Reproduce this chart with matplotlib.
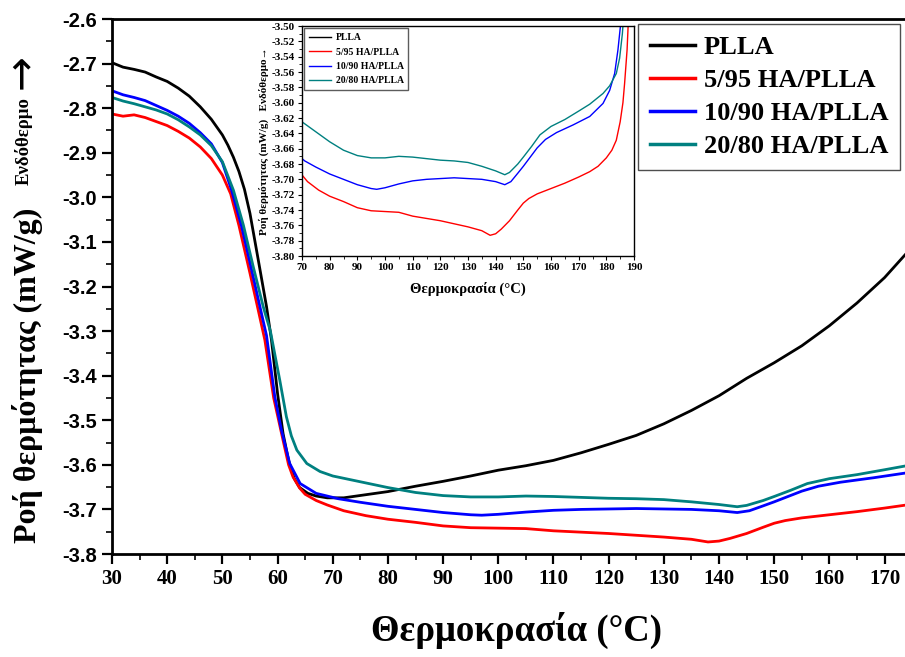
import matplotlib
matplotlib.use("Agg")
import matplotlib.pyplot as plt
from matplotlib.ticker import MultipleLocator, FormatStrFormatter
from matplotlib.lines import Line2D

plt.rcParams['axes.unicode_minus'] = False

# ---------------- data ----------------
pla_T = [30, 32, 34, 36, 38, 40, 42, 44, 46, 48, 50, 51, 52, 53, 54, 55, 56.5, 58, 58.9, 60, 61, 62, 63, 64,
         65.5, 67, 69, 72, 76, 80, 85, 90, 95, 100, 105, 110, 115, 120, 125, 130, 135, 140, 145, 150,
         155, 160, 165, 170, 174]
pla_v = [-2.698, -2.708, -2.713, -2.719, -2.730, -2.740, -2.755, -2.773, -2.797, -2.825, -2.860, -2.883,
         -2.910, -2.942, -2.982, -3.036, -3.140, -3.245, -3.320, -3.440, -3.530, -3.590, -3.630, -3.651,
         -3.664, -3.670, -3.674, -3.674, -3.667, -3.660, -3.648, -3.637, -3.625, -3.612, -3.602, -3.590,
         -3.573, -3.554, -3.534, -3.508, -3.478, -3.445, -3.406, -3.371,
         -3.333, -3.288, -3.237, -3.180, -3.125]

ha5_T = [30, 32, 34, 36, 38, 40, 42, 44, 46, 48, 50, 51.5, 53, 55, 56.5, 57.7, 59.3, 61, 62, 62.8, 64,
         65, 67, 69, 72, 76, 80, 85, 90, 95, 100, 105, 110, 115, 120, 125, 130, 135, 138, 140, 142,
         145, 148, 150, 152, 155, 160, 165, 170, 174, 177, 180, 182, 183.6, 185, 186, 186.6, 187.5, 188]
ha5_v = [-2.813, -2.818, -2.815, -2.821, -2.830, -2.839, -2.852, -2.867, -2.887, -2.913, -2.950, -2.992,
         -3.063, -3.170, -3.253, -3.320, -3.450, -3.545, -3.600, -3.627, -3.652,
         -3.666, -3.680, -3.690, -3.703, -3.714, -3.722, -3.729, -3.737, -3.741, -3.742, -3.743, -3.748,
         -3.751, -3.754, -3.758, -3.762, -3.767, -3.773, -3.771, -3.765,
         -3.754, -3.740, -3.731, -3.725, -3.719, -3.712, -3.705, -3.697, -3.690, -3.683, -3.672, -3.662,
         -3.649, -3.625, -3.600, -3.575, -3.531, -3.49]

ha10_T = [30, 32, 34, 36, 38, 40, 42, 44, 46, 48, 50, 51.7, 53.5, 55.3, 56.8, 58, 59.5, 60.7, 62.2, 64.1,
          67, 71, 75, 80, 85, 90, 95, 97, 100, 105, 110, 115, 120, 125, 130, 135, 140, 143.3, 145.5,
          148, 150, 152.5, 155, 158, 162, 168, 174, 178.8, 181.2, 183, 184.2, 185.1, 185.5]
ha10_v = [-2.761, -2.770, -2.776, -2.783, -2.794, -2.805, -2.818, -2.834, -2.855, -2.880, -2.922, -2.985,
          -3.066, -3.163, -3.245, -3.310, -3.447, -3.522, -3.597, -3.642,
          -3.664, -3.676, -3.684, -3.693, -3.700, -3.707, -3.712, -3.713, -3.711, -3.706, -3.702, -3.700,
          -3.699, -3.698, -3.699, -3.700, -3.703, -3.707, -3.703,
          -3.692, -3.683, -3.671, -3.659, -3.648, -3.639, -3.629, -3.618, -3.601, -3.584, -3.562, -3.531,
          -3.500, -3.48]

ha20_T = [30, 32, 34, 36, 38, 40, 42, 44, 46, 48, 50, 52, 53.8, 55.6, 57.4, 58.7, 60.4, 61.6, 62.5, 63.5,
          65.3, 67.7, 70, 75, 80, 85, 90, 95, 100, 105, 110, 115, 120, 125, 130, 135, 140, 143.3, 145,
          148, 150, 153, 156, 160, 165, 170, 174, 178.8, 181.2, 183.6, 184.8, 185.8, 186.2]
ha20_v = [-2.776, -2.784, -2.790, -2.797, -2.804, -2.813, -2.826, -2.842, -2.860, -2.884, -2.920, -2.984,
          -3.062, -3.156, -3.245, -3.300, -3.410, -3.492, -3.535, -3.567,
          -3.597, -3.615, -3.625, -3.638, -3.651, -3.662, -3.669, -3.672, -3.672, -3.670, -3.671, -3.673,
          -3.675, -3.676, -3.678, -3.683, -3.689, -3.694, -3.691,
          -3.680, -3.671, -3.657, -3.642, -3.631, -3.622, -3.611, -3.602, -3.588, -3.578, -3.562, -3.542,
          -3.510, -3.49]

labels = ["PLLA", "5/95 HA/PLLA", "10/90 HA/PLLA", "20/80 HA/PLLA"]
colors = ["#000000", "#FF0000", "#0000FF", "#008080"]

main_xticks = list(range(30, 171, 10))
main_yticks = [-3.8, -3.7, -3.6, -3.5, -3.4, -3.3, -3.2, -3.1, -3.0, -2.9, -2.8, -2.7, -2.6]
inset_xticks = list(range(70, 191, 10))

# ---------------- figure ----------------
W, H = 905, 657
fig = plt.figure(figsize=(W / 100, H / 100), dpi=100)
fig.patch.set_facecolor("white")

serif = ["Liberation Serif", "DejaVu Serif"]
sans = ["Liberation Sans", "DejaVu Sans"]

ax = fig.add_axes([112 / W, 1 - 554 / H, 793 / W, 535 / H])
series = [(pla_T, pla_v), (ha5_T, ha5_v), (ha10_T, ha10_v), (ha20_T, ha20_v)]
for (t, v), c, lab in zip(series, colors, labels):
    ax.plot(t, v, color=c, lw=2.0, label=lab, solid_joinstyle="round")

ax.set_xlim(30, 173.7)
ax.set_ylim(-3.8, -2.6)
ax.set_xticks(main_xticks)
ax.set_yticks(main_yticks)
ax.xaxis.set_minor_locator(MultipleLocator(5))
ax.yaxis.set_minor_locator(MultipleLocator(0.05))
ax.yaxis.set_major_formatter(FormatStrFormatter("%.1f"))
ax.tick_params(which="major", direction="out", length=7, width=1.6, pad=4)
ax.tick_params(which="minor", direction="out", length=4, width=1.2)
ax.tick_params(top=False, right=False, which="both")
for lab in ax.get_xticklabels():
    lab.set_fontfamily(serif)
    lab.set_fontweight("bold")
    lab.set_fontsize(15)
for lab in ax.get_yticklabels():
    lab.set_fontfamily(sans)
    lab.set_fontweight("bold")
    lab.set_fontsize(14.5)
for s in ["left", "bottom", "top"]:
    ax.spines[s].set_linewidth(2.0)
ax.spines["right"].set_visible(False)

ax.set_xlabel("Θερμοκρασία (°C)", fontfamily=serif, fontweight="bold", fontsize=26.5, labelpad=16)
ax.xaxis.label.set_x((516 - 112) / 793)

# y-axis title in three pieces (as in the original layout)
fig.text(28 / W, 1 - 375 / H, "Ροή θερμότητας (mW/g)", rotation=90, ha="center", va="center",
         fontfamily=serif, fontweight="bold", fontsize=23)
fig.text(24 / W, 1 - 141 / H, "Ενδόθερμο", rotation=90, ha="center", va="center",
         fontfamily=serif, fontweight="bold", fontsize=13.5)
fig.text(21 / W, 1 - 72 / H, "→", rotation=90, ha="center", va="center",
         fontfamily=["DejaVu Sans"], fontsize=30)

leg = ax.legend(loc="upper left", bbox_to_anchor=(638 / W, 1 - 24 / H), bbox_transform=fig.transFigure,
                prop={"family": serif, "weight": "bold", "size": 19}, frameon=True, fancybox=False,
                handlelength=1.7, handletextpad=0.35, borderpad=0.45, labelspacing=0.36,
                borderaxespad=0)
leg.get_frame().set_edgecolor("#222222")
leg.get_frame().set_linewidth(1.0)
for ln in leg.get_lines():
    ln.set_linewidth(2.5)

# ---------------- inset ----------------
axi = fig.add_axes([302 / W, 1 - 256 / H, 332 / W, 230 / H])
for (t, v), c in zip(series[1:], colors[1:]):
    axi.plot(t, v, color=c, lw=1.0)
axi.set_xlim(70, 190)
axi.set_ylim(-3.80, -3.50)
axi.set_xticks(inset_xticks)
axi.yaxis.set_major_locator(MultipleLocator(0.02))
axi.yaxis.set_minor_locator(MultipleLocator(0.01))
axi.xaxis.set_minor_locator(MultipleLocator(5))
axi.yaxis.set_major_formatter(FormatStrFormatter("%.2f"))
axi.tick_params(which="major", direction="out", length=3, width=0.8, pad=2)
axi.tick_params(which="minor", direction="out", length=2, width=0.6)
for lab in axi.get_xticklabels() + axi.get_yticklabels():
    lab.set_fontfamily(serif)
    lab.set_fontweight("bold")
    lab.set_fontsize(8)
for s in axi.spines.values():
    s.set_linewidth(1.0)
axi.set_xlabel("Θερμοκρασία (°C)", fontfamily=serif, fontweight="bold", fontsize=10.5, labelpad=7)
axi.set_ylabel("Ροή θερμότητας (mW/g)   Ενδόθερμο→", fontfamily=serif, fontweight="bold",
               fontsize=8, labelpad=2)

handles = [Line2D([], [], color=c, lw=1.0) for c in colors]
ileg = axi.legend(handles, labels, loc="upper left", prop={"family": serif, "weight": "bold", "size": 7},
                  frameon=True, fancybox=False, handlelength=2.2, handletextpad=0.5,
                  borderpad=0.5, labelspacing=0.55, borderaxespad=0.25)
ileg.get_frame().set_edgecolor("#333333")
ileg.get_frame().set_linewidth(1.0)

fig.savefig("out.png", dpi=100)
